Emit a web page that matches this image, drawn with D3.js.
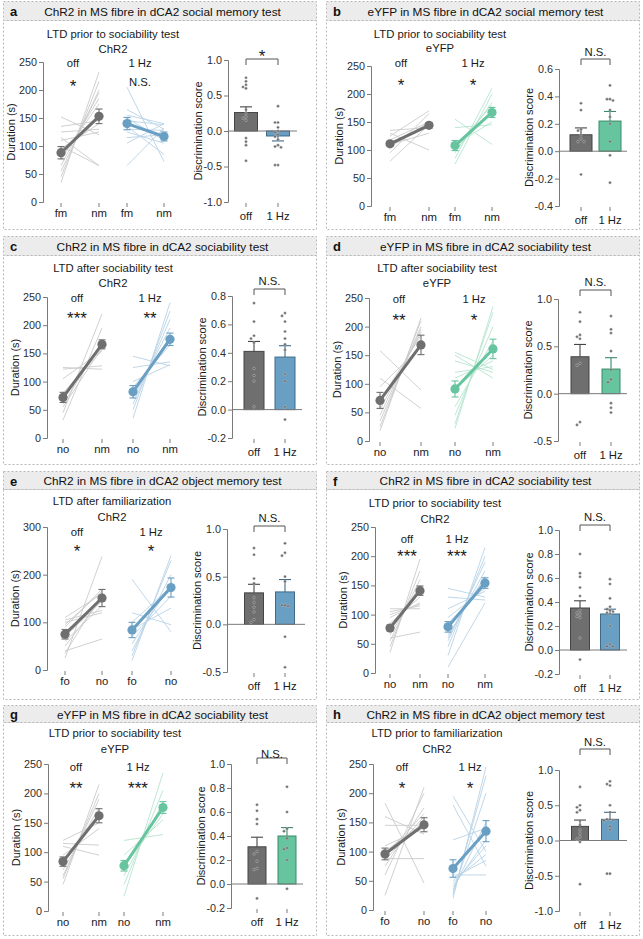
<!DOCTYPE html>
<html><head><meta charset="utf-8">
<script src="https://cdn.jsdelivr.net/npm/d3@7"></script>
<style>body{margin:0;background:#fff}svg{display:block}text{font-family:"Liberation Sans",Arial,Helvetica,sans-serif}</style>
</head><body><svg id="chart" width="643" height="939"></svg>
<script>
// ================= DATA =================
const panelLetters = ['a','b','c','d','e','f','g','h'];
const panelTitles = [
  'ChR2 in MS fibre in dCA2 social memory test',
  'eYFP in MS fibre in dCA2 social memory test',
  'ChR2 in MS fibre in dCA2 sociability test',
  'eYFP in MS fibre in dCA2 sociability test',
  'ChR2 in MS fibre in dCA2 object memory test',
  'ChR2 in MS fibre in dCA2 sociability test',
  'eYFP in MS fibre in dCA2 sociability test',
  'ChR2 in MS fibre in dCA2 object memory test'];
const protocolTitles = [
  'LTD prior to sociability test','LTD prior to sociability test',
  'LTD after sociability test','LTD after sociability test',
  'LTD after familiarization','LTD prior to sociability test',
  'LTD prior to sociability test','LTD prior to familiarization'];
const virusNames = ['ChR2','eYFP','ChR2','eYFP','ChR2','ChR2','eYFP','ChR2'];
const phaseLabels = [['fm','nm'],['fm','nm'],['no','nm'],['no','nm'],['fo','no'],['no','nm'],['no','nm'],['fo','no']];
const groupLabels = ['off','1 Hz'];
const lineTicks = [
  [0,50,100,150,200,250],[0,50,100,150,200,250],[0,50,100,150,200,250],[0,50,100,150,200,250],
  [0,100,200,300],[0,50,100,150,200,250],[0,50,100,150,200,250],[0,50,100,150,200,250]];
const barTicks = [
  [-1.0,-0.5,0.0,0.5,1.0],[-0.4,-0.2,0.0,0.2,0.4,0.6],[-0.2,0.0,0.2,0.4,0.6,0.8],[-0.5,0.0,0.5,1.0],
  [-0.5,0.0,0.5,1.0],[-0.2,0.0,0.2,0.4,0.6,0.8,1.0],[-0.2,0.0,0.2,0.4,0.6,0.8,1.0],[-1.0,-0.5,0.0,0.5,1.0]];
const sigOff = ['*','*','***','**','*','***','**','*'];
const sigHz  = ['N.S.','*','**','*','*','***','***','*'];
const sigBar = ['*','N.S.','N.S.','N.S.','N.S.','N.S.','N.S.','N.S.'];

// individual animals (duration, s): first phase -> second phase
const offPre = [
  [35,45,55,65,75,80,85,95,100,110,115,125,135,152],
  [80,95,105,110,118,125,130,135],
  [32,45,55,60,68,80,105,122,125],
  [18,25,35,45,55,70,95,110,158],
  [25,35,40,50,60,70,80,90,95,100,105,110],
  [35,45,55,60,65,75,80,85,95,100,105,110],
  [45,55,60,70,85,95,110,115,120],
  [25,60,75,85,88,95,100,110,145,160,183]];
const offPost = [
  [232,215,200,195,185,175,150,140,65,125,65,130,145,120],
  [145,165,150,130,150,170,100,140],
  [195,220,160,170,168,155,155,128,122],
  [215,210,200,195,190,185,165,57,89],
  [238,160,65,150,135,145,150,170,165,120,125,160],
  [195,175,160,70,150,145,140,130,120,118,115,110],
  [215,200,190,175,160,140,95,112,150],
  [210,200,175,160,88,165,150,140,145,130,46]];
const hzPre = [
  [205,165,155,150,145,140,135,130,125,115,105,65],
  [75,85,95,100,105,110,140,155],
  [35,50,60,70,80,90,100,125,145],
  [22,30,45,60,90,110,120,140,150,155],
  [20,30,40,55,70,85,100,120,190],
  [10,30,45,55,60,65,75,85,95,110,130,145],
  [25,45,60,75,95,120],
  [20,25,30,35,40,45,50,55,60,120,180,195]];
const hzPost = [
  [72,130,140,110,138,115,85,128,105,120,140,132],
  [200,210,185,170,180,150,145,110],
  [240,225,210,195,180,165,130,135,128],
  [235,225,200,175,150,140,130,120,110,125],
  [240,230,200,180,155,130,175,95,80],
  [120,215,200,190,175,165,160,150,145,140,125,130],
  [235,205,185,165,155,130],
  [245,230,200,150,120,110,95,85,60,140,75,100]];
// group means ± SEM [first phase, second phase]
const offMean = [[88,153],[111,144],[72,166],[71,168],[75,151],[77,141],[84,162],[96,146]];
const offSem  = [[11,13],[4,5],[9,8],[14,17],[10,18],[5,8],[8,12],[10,12]];
const hzMean  = [[140,117],[108,167],[82,175],[91,161],[84,173],[79,154],[77,176],[71,135]];
const hzSem   = [[11,8],[9,9],[11,11],[14,17],[16,20],[9,9],[9,10],[15,18]];
// discrimination score [off, 1 Hz]
const barMean = [[0.26,-0.07],[0.12,0.22],[0.41,0.37],[0.39,0.26],[0.33,0.34],[0.35,0.30],[0.31,0.40],[0.20,0.30]];
const barSem  = [[0.08,0.07],[0.05,0.07],[0.07,0.08],[0.13,0.12],[0.09,0.13],[0.06,0.04],[0.08,0.07],[0.09,0.10]];
const dotsOff = [
  [0.75,0.70,0.65,0.62,0.60,0.30,0.25,0.20,0.18,0.15,-0.10,-0.15,-0.20,-0.42],
  [0.35,0.30,0.16,0.15,0.12,0.09,0.07,0.07,-0.17],
  [0.75,0.62,0.52,0.50,0.47,0.29,0.24,0.20,0.02],
  [0.86,0.76,0.62,0.60,0.58,0.32,0.30,-0.30,-0.33],
  [0.80,0.73,0.48,0.43,0.28,0.23,0.18,0.13,0.05,0.02],
  [0.80,0.64,0.61,0.52,0.45,0.33,0.31,0.30,0.28,0.27,0.10,-0.08],
  [0.66,0.61,0.54,0.50,0.27,0.25,0.19,0.13,0.12,-0.12],
  [0.76,0.50,0.47,0.43,0.40,0.28,0.22,0.15,0.10,0.05,0.02,-0.02,-0.62]];
const dotsHz = [
  [0.35,0.12,0.12,0.05,0.00,-0.02,-0.05,-0.08,-0.12,-0.20,-0.22,-0.23,-0.48,-0.48],
  [0.48,0.38,0.38,0.37,0.30,0.25,0.20,0.07,-0.03,-0.23],
  [0.68,0.66,0.62,0.55,0.50,0.46,0.42,0.25,0.20,0.02,-0.07],
  [0.82,0.68,0.64,0.45,0.25,0.15,0.12,-0.10,-0.15,-0.20],
  [0.85,0.75,0.72,0.50,0.45,0.20,0.20,0.19,-0.13,-0.45],
  [0.59,0.55,0.43,0.36,0.34,0.33,0.32,0.31,0.30,0.20,0.05,0.03,0.03],
  [0.81,0.60,0.46,0.44,0.38,0.30,0.29,0.20,-0.04],
  [0.84,0.80,0.78,0.50,0.40,0.30,0.30,0.29,0.28,0.20,0.15,-0.47,-0.47]];

// ================= LAYOUT / STYLE =================
const COLX = [3,326], ROWY = [3,237,471,705];
const FRAME = {x:[3,326], w:313, top:[1,236,471,705], hh:[19,19,18,17], bottom:[229,464,699,935]};
const LAYOUT = [
 {lax:40,lTop:59,lBot:199,xs:[58,96,124,161],bax:225,bTop:57,bBot:199,bx:[243,275],bw:23,zEnd:294,tX:110,t1:31,t2:46,offX:70,hzX:137,grpY:60,sigY:79,brY:56,brL:-7},
 {lax:45,lTop:63,lBot:203,xs:[64,103,129,166],bax:233,bTop:66,bBot:203,bx:[255,284],bw:22,zEnd:301,tX:114,t1:31,t2:45,offX:75,hzX:147,grpY:60,sigY:78,brY:56,brL:-7},
 {lax:44,lTop:60,lBot:201,xs:[60,99,130,167],bax:229,bTop:59,bBot:201,bx:[251,282],bw:20,zEnd:299,tX:110,t1:31,t2:46,offX:74,hzX:147,grpY:61,sigY:77,brY:52,brL:-8},
 {lax:43,lTop:61,lBot:204,xs:[54,95,129,167],bax:232,bTop:62,bBot:204,bx:[254,285],bw:18,zEnd:301,tX:111,t1:31,t2:46,offX:73,hzX:148,grpY:62,sigY:79,brY:53,brL:-8},
 {lax:44,lTop:56,lBot:199,xs:[62,99,129,168],bax:224,bTop:58,bBot:201,bx:[251,282],bw:19,zEnd:302,tX:109,t1:30,t2:46,offX:74,hzX:148,grpY:61,sigY:76,brY:55,brL:-8},
 {lax:49,lTop:56,lBot:202,xs:[64,94,122,159],bax:233,bTop:59,bBot:203,bx:[254,284],bw:19,zEnd:301,tX:109,t1:32,t2:48,offX:81,hzX:131,grpY:68,sigY:81,brY:54,brL:-8},
 {lax:45,lTop:59,lBot:206,xs:[60,96,121,160],bax:228,bTop:59,bBot:203,bx:[254,284],bw:18,zEnd:300,tX:112,t1:28,t2:44,offX:73,hzX:135,grpY:62,sigY:79,brY:53,brL:-4},
 {lax:47,lTop:59,lBot:205,xs:[59,98,127,160],bax:233,bTop:65,bBot:206,bx:[254,284],bw:17,zEnd:301,tX:111,t1:28,t2:44,offX:76,hzX:144,grpY:62,sigY:79,brY:44,brL:-7}];
const COL = {
  off:{main:'#6f6f6f', light:'#cbcbcb', dark:'#454545'},
  ChR2:{main:'#6a9fc4', light:'#b8d3e6', dark:'#3f6a88'},
  eYFP:{main:'#66c49f', light:'#b5e4cf', dark:'#3b8a6a'}};
const AXIS = '#7a7a7a', TXT = '#1a1a1a', TICKTXT = '#2e2e2e';
const FS = {header:11.8, title:11.3, tick:10.8, axis:11, cat:11.3, star:17};

const svg = d3.select('#chart');

function styleAxis(sel){
  sel.select('.domain').attr('stroke',AXIS).attr('stroke-width',1);
  sel.selectAll('.tick line').attr('stroke',AXIS);
  sel.selectAll('.tick text').attr('fill',TICKTXT).attr('font-size',FS.tick)
     .attr('font-family','"Liberation Sans",Arial,sans-serif');
}
function label(g,x,y,txt,size){
  const isStar = /^\*+$/.test(txt);
  const t = g.append('text').attr('x',x).attr('text-anchor','middle').attr('fill',TXT).text(txt);
  if(isStar){ t.attr('font-size',FS.star).attr('y',y+9.5); }
  else { t.attr('font-size',size).attr('y',y).attr('dy','0.35em'); }
  return t;
}
function beeswarm(vals, yScale){
  const placed=[]; const cands=[0,-3,3,-6,6,-9,9,-12,12];
  return vals.map(v=>{
    const py=yScale(v);
    let off=0;
    for(const c of cands){
      if(placed.every(p=>Math.hypot(p[0]-c,p[1]-py)>=2.9)){off=c;break;}
    }
    placed.push([off,py]);
    return [off,py];
  });
}

panelLetters.forEach((id,i)=>{
  const col=i%2,row=Math.floor(i/2);
  const fx=FRAME.x[col], ft=FRAME.top[row], fb=FRAME.bottom[row], hh=FRAME.hh[row];
  // frame & header
  svg.append('rect').attr('x',fx+0.5).attr('y',ft+hh+0.5).attr('width',FRAME.w).attr('height',fb-ft-hh)
     .attr('fill','none').attr('stroke','#b8b8b8').attr('stroke-dasharray','2,2');
  svg.append('rect').attr('x',fx+0.5).attr('y',ft+0.5).attr('width',FRAME.w).attr('height',hh)
     .attr('fill','#ececec').attr('stroke','#b8b8b8').attr('stroke-dasharray','2,2');
  svg.append('text').attr('x',fx+7).attr('y',ft+hh/2+1).attr('dy','0.35em').attr('font-size',13)
     .attr('font-weight','bold').attr('fill','#111').text(id);
  svg.append('text').attr('x',fx+FRAME.w/2+3).attr('y',ft+hh/2+1).attr('dy','0.35em').attr('font-size',FS.header)
     .attr('text-anchor','middle').attr('fill','#111').text(panelTitles[i]);

  const L = LAYOUT[i];
  const g = svg.append('g').attr('transform',`translate(${COLX[col]},${ROWY[row]})`);
  const hzC = COL[virusNames[i]], offC = COL.off;

  // ----- titles -----
  label(g,L.tX,L.t1,protocolTitles[i],FS.title);
  label(g,L.tX,L.t2,virusNames[i],FS.title);

  // ----- paired line chart -----
  const lt = lineTicks[i];
  const y = d3.scaleLinear().domain([0, lt[lt.length-1]]).range([L.lBot, L.lTop]);
  const x = d3.scaleOrdinal().domain([0,1,2,3]).range(L.xs);
  const ya = g.append('g').attr('transform',`translate(${L.lax},0)`)
    .call(d3.axisLeft(y).tickValues(lt).tickSize(4).tickPadding(2).tickFormat(d3.format('d')));
  styleAxis(ya);
  const cats = [phaseLabels[i][0],phaseLabels[i][1],phaseLabels[i][0],phaseLabels[i][1]];
  [0,1,2,3].forEach(k=>{
    g.append('line').attr('x1',x(k)).attr('x2',x(k)).attr('y1',L.lBot+1).attr('y2',L.lBot+5).attr('stroke',AXIS);
    g.append('text').attr('x',x(k)).attr('y',L.lBot+11.5).attr('dy','0.35em').attr('text-anchor','middle')
      .attr('font-size',FS.cat).attr('fill',TXT).text(cats[k]);
  });
  g.append('text').attr('transform',`translate(${L.lax-32},${(L.lTop+L.lBot)/2}) rotate(-90)`)
    .attr('text-anchor','middle').attr('dy','0.35em').attr('font-size',FS.axis).attr('fill',TXT).text('Duration (s)');

  const groups = [
    {pre:offPre[i],post:offPost[i],mean:offMean[i],sem:offSem[i],c:offC,xi:[0,1]},
    {pre:hzPre[i],post:hzPost[i],mean:hzMean[i],sem:hzSem[i],c:hzC,xi:[2,3]}];
  groups.forEach(G=>{
    g.append('g').selectAll('line').data(G.pre).join('line')
      .attr('x1',x(G.xi[0])).attr('x2',x(G.xi[1]))
      .attr('y1',d=>y(d)).attr('y2',(d,k)=>y(G.post[k]))
      .attr('stroke',G.c.light).attr('stroke-width',0.9);
  });
  groups.forEach(G=>{
    G.mean.forEach((m,k)=>{
      const cx=x(G.xi[k]);
      const e=g.append('g').attr('stroke',G.c.main).attr('stroke-width',1.1);
      e.append('line').attr('x1',cx).attr('x2',cx).attr('y1',y(m-G.sem[k])).attr('y2',y(m+G.sem[k]));
      e.append('line').attr('x1',cx-3.5).attr('x2',cx+3.5).attr('y1',y(m-G.sem[k])).attr('y2',y(m-G.sem[k]));
      e.append('line').attr('x1',cx-3.5).attr('x2',cx+3.5).attr('y1',y(m+G.sem[k])).attr('y2',y(m+G.sem[k]));
    });
    g.append('line').attr('x1',x(G.xi[0])).attr('x2',x(G.xi[1]))
      .attr('y1',y(G.mean[0])).attr('y2',y(G.mean[1])).attr('stroke',G.c.main).attr('stroke-width',3);
    g.append('g').selectAll('circle').data(G.mean).join('circle')
      .attr('cx',(d,k)=>x(G.xi[k])).attr('cy',d=>y(d)).attr('r',4.6).attr('fill',G.c.main);
  });
  label(g,L.offX,L.grpY,groupLabels[0],FS.title);
  label(g,L.hzX,L.grpY,groupLabels[1],FS.title);
  label(g,L.offX,L.sigY,sigOff[i],FS.title);
  label(g,L.hzX,L.sigY,sigHz[i],FS.title);

  // ----- bar chart -----
  const bt = barTicks[i];
  const yb = d3.scaleLinear().domain([bt[0], bt[bt.length-1]]).range([L.bBot, L.bTop]);
  const xb = d3.scaleOrdinal().domain(groupLabels).range(L.bx);
  const yba = g.append('g').attr('transform',`translate(${L.bax},0)`)
    .call(d3.axisLeft(yb).tickValues(bt).tickSize(4).tickPadding(2).tickFormat(d=>d.toFixed(1)));
  styleAxis(yba);
  g.append('text').attr('transform',`translate(${L.bax-30},${(L.bTop+L.bBot)/2}) rotate(-90)`)
    .attr('text-anchor','middle').attr('dy','0.35em').attr('font-size',FS.axis).attr('fill',TXT).text('Discrimination score');
  const bcols=[offC,hzC];
  groupLabels.forEach((gl,k)=>{
    const m=barMean[i][k], cx=xb(gl);
    g.append('rect').attr('x',cx-L.bw/2).attr('width',L.bw)
      .attr('y',Math.min(yb(0),yb(m))).attr('height',Math.abs(yb(m)-yb(0)))
      .attr('fill',bcols[k].main).attr('stroke',bcols[k].dark).attr('stroke-width',1);
  });
  g.append('line').attr('x1',L.bax).attr('x2',L.zEnd).attr('y1',yb(0)).attr('y2',yb(0)).attr('stroke',AXIS);
  groupLabels.forEach((gl,k)=>{
    const m=barMean[i][k], s=barSem[i][k], cx=xb(gl);
    const tip = m>=0 ? m+s : m-s;
    const e=g.append('g').attr('stroke',bcols[k].dark).attr('stroke-width',1.1);
    e.append('line').attr('x1',cx).attr('x2',cx).attr('y1',yb(m)).attr('y2',yb(tip));
    e.append('line').attr('x1',cx-6).attr('x2',cx+6).attr('y1',yb(tip)).attr('y2',yb(tip));
    const pts = beeswarm([dotsOff,dotsHz][k][i], yb);
    g.append('g').selectAll('circle').data(pts).join('circle')
      .attr('cx',d=>cx+d[0]).attr('cy',d=>d[1]).attr('r',1.35)
      .attr('fill','#6a6a6a').attr('stroke','#d0d0d0').attr('stroke-width',0.4);
    g.append('line').attr('x1',cx).attr('x2',cx).attr('y1',L.bBot+1).attr('y2',L.bBot+5).attr('stroke',AXIS);
    g.append('text').attr('x',cx).attr('y',L.bBot+14).attr('dy','0.35em').attr('text-anchor','middle')
      .attr('font-size',FS.cat).attr('fill',TXT).text(gl);
  });
  const x0=xb(groupLabels[0]), x1=xb(groupLabels[1]);
  g.append('path').attr('d',`M${x0},${L.brY+6}V${L.brY}H${x1}V${L.brY+6}`)
    .attr('fill','none').attr('stroke','#555').attr('stroke-width',1);
  label(g,(x0+x1)/2,L.brY+L.brL,sigBar[i],FS.title);
});
</script></body></html>
